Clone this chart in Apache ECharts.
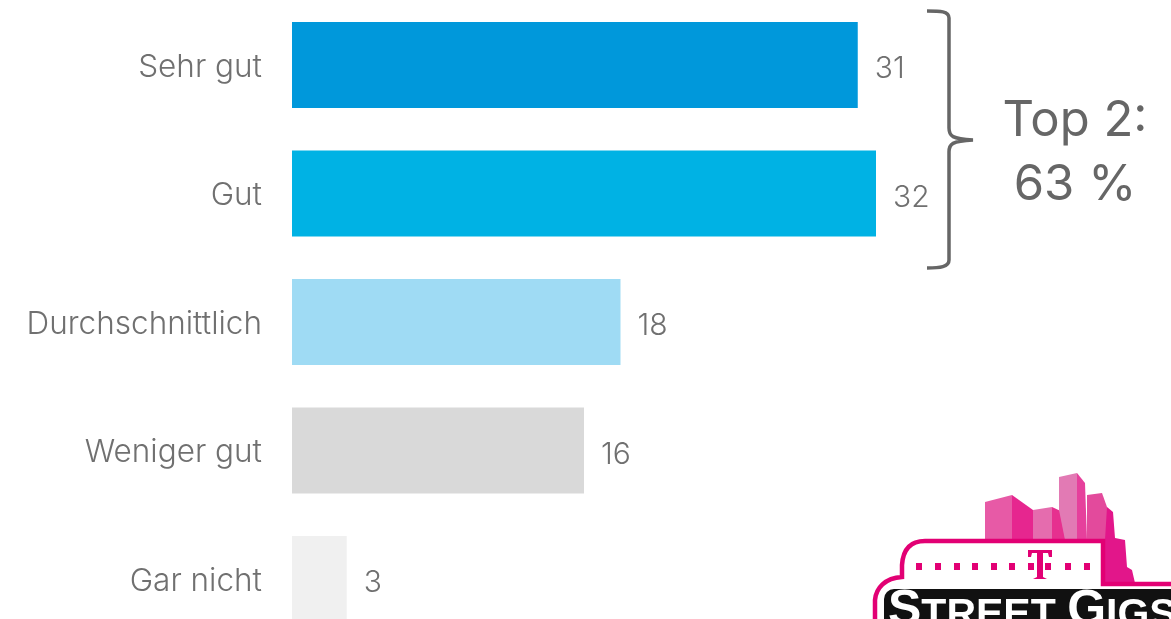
<!DOCTYPE html>
<html><head><meta charset="utf-8">
<style>html,body{margin:0;padding:0;background:#fff}#c{width:1171px;height:619px}</style>
<script src="https://cdn.jsdelivr.net/npm/echarts@6/dist/echarts.min.js"></script>
</head><body><div id="c"></div>
<script>
const categories = ['Sehr gut', 'Gut', 'Durchschnittlich', 'Weniger gut', 'Gar nicht'];
const values = [31, 32, 18, 16, 3];
const barColors = ['#0098db', '#00b2e4', '#9fdbf4', '#d9d9d9', '#f0f0f0'];
const summaryLines = 'Top 2:\n63 %';
const pink = '#e20074';
const font = 'Inter';

// Shape made of straight [x, y] and cubic [x1, y1, x2, y2, x, y] segments
echarts.graphic.registerShape('segments', echarts.graphic.extendShape({
  shape: {segs: [], closed: false},
  buildPath(ctx, shape) {
    shape.segs.forEach((s, i) => {
      if (i === 0) ctx.moveTo(s[0], s[1]);
      else if (s.length === 2) ctx.lineTo(s[0], s[1]);
      else ctx.bezierCurveTo(s[0], s[1], s[2], s[3], s[4], s[5]);
    });
    if (shape.closed) ctx.closePath();
  }
}));

const chart = echarts.init(document.getElementById('c'), null, {renderer: 'canvas'});
const block = (x, y, w, h, c) => ({type: 'rect', shape: {x, y, width: w, height: h}, style: {fill: c}});
const poly = (points, fill) => ({type: 'polygon', shape: {points}, style: {fill}});

chart.setOption({
  animation: false,
  backgroundColor: '#fff',
  grid: {left: 292, top: 0.75, width: 803, height: 642.5, outerBoundsMode: 'none'},
  xAxis: {type: 'value', min: 0, max: 44, show: false},
  yAxis: {
    type: 'category', inverse: true, data: categories,
    axisLine: {show: false}, axisTick: {show: false},
    axisLabel: {
      margin: 30, hideOverlap: false,
      formatter: name => '{a|' + name + '}',
      rich: {a: {color: '#707070', fontFamily: font, fontWeight: 300, fontSize: 31.5, padding: [5, 0, 0, 0]}}
    }
  },
  series: [{
    type: 'bar', barWidth: 86,
    data: values.map((v, i) => ({value: v, itemStyle: {color: barColors[i]}})),
    label: {show: true, position: 'right', distance: 17, color: '#707070', fontFamily: font, fontWeight: 300, fontSize: 30, offset: [0, 4]}
  }],
  graphic: [
    // Bracket around the two top answers
    {type: 'segments', shape: {segs: [[927, 11], [940, 11, 949, 11, 949, 18], [949, 128], [949, 136, 952, 139, 973, 140], [952, 141, 949, 144, 949, 152], [949, 260], [949, 267, 940, 268, 927, 268]]},
     style: {fill: 'none', stroke: '#666', lineWidth: 3.5}},
    {type: 'text', x: 1075, y: 153, style: {text: summaryLines, fill: '#666', font: '400 49px ' + font, align: 'center', verticalAlign: 'middle', lineHeight: 64}},
    // Event logo: skyline faces
    poly([[985, 502], [1012, 495], [1012, 540], [985, 540]], '#e75aa6'),
    poly([[1012, 495], [1033, 510], [1033, 540], [1012, 540]], '#e6268f'),
    poly([[1033, 510], [1052, 507], [1052, 540], [1033, 540]], '#e56cae'),
    poly([[1052, 507], [1065, 513], [1065, 540], [1052, 540]], '#e6308f'),
    poly([[1059, 477], [1077, 473], [1077, 540], [1065, 540], [1059, 510]], '#e27ab4'),
    poly([[1077, 473], [1085, 483], [1087, 540], [1077, 540]], '#e6409c'),
    poly([[1087, 495], [1102, 493], [1107, 507], [1107, 540], [1087, 540]], '#e34a9c'),
    poly([[1107, 507], [1113, 512], [1115, 538], [1125, 540], [1127, 567], [1132, 570], [1135, 583], [1105, 583], [1105, 540]], '#e2168a'),
    // Event logo: outlined frame
    {type: 'segments', shape: {closed: true, segs: [[875, 630], [875, 600], [876, 588, 885, 578, 902, 577], [902, 565], [903, 550, 910, 541, 925, 541], [1103, 541], [1103, 584], [1180, 584], [1180, 630]]},
     style: {fill: '#fff', stroke: pink, lineWidth: 4.5}},
    // Event logo: dotted line and T mark
    ...[919, 938, 957, 975, 994, 1012, 1031, 1048, 1068, 1087].map(x => block(x - 3, 563, 6, 7, pink)),
    poly([[1028, 550], [1052, 550], [1052, 557], [1049, 557], [1048, 553], [1043, 553], [1043, 577], [1047, 579], [1033, 579], [1037, 577], [1037, 553], [1032, 553], [1031, 557], [1028, 557]], pink),
    // Event logo: name plate, cut off by the page edge
    {type: 'rect', shape: {x: 884, y: 589, width: 300, height: 50, r: [10, 0, 0, 0]}, style: {fill: '#111'}},
    {type: 'text', x: 888, y: 636, style: {
      text: '{b|S}{s|TREET}{s| }{b|G}{s|IGS}', align: 'left', verticalAlign: 'bottom',
      rich: {
        b: {fill: '#fff', font: '700 50px "Liberation Sans"', verticalAlign: 'bottom'},
        s: {fill: '#fff', font: '700 41px "Liberation Sans"', verticalAlign: 'bottom'}
      }
    }}
  ]
});
</script></body></html>
